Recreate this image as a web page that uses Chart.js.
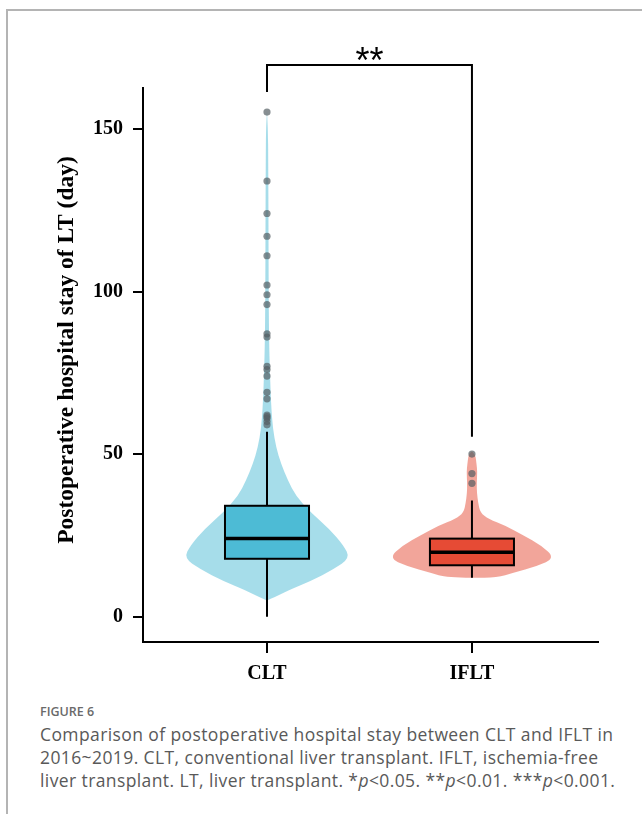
<!DOCTYPE html>
<html>
<head>
<meta charset="utf-8">
<script src="https://cdn.jsdelivr.net/npm/chart.js@4/dist/chart.umd.min.js"></script>
<style>
  html, body { margin: 0; padding: 0; background: #fff; }
  body { width: 642px; height: 814px; position: relative; overflow: hidden; }
  #frame { position: absolute; left: 6px; top: 9px; right: -5px; bottom: -5px;
           border-left: 2px solid #b4b4b4; border-top: 2px solid #b4b4b4; }
  #wrap { position: absolute; left: 0; top: 0; width: 642px; height: 700px; }
  #cap-head { position: absolute; left: 40px; top: 703px; font-family: "Open Sans", sans-serif;
              font-size: 12.5px; font-weight: 600; color: #6a6a6a; }
  #cap { position: absolute; left: 40px; top: 723px; width: 610px; font-family: "Open Sans", sans-serif;
         font-size: 17.5px; line-height: 23px; color: #595959; font-weight: 400; letter-spacing: 0.4px; white-space: nowrap; }
</style>
</head>
<body>
<div id="frame"></div>
<div id="wrap"><canvas id="c" width="642" height="700"></canvas></div>
<div id="cap-head">FIGURE 6</div>
<div id="cap">Comparison of postoperative hospital stay between CLT and IFLT in<br>2016~2019. CLT, conventional liver transplant. IFLT, ischemia-free<br>liver transplant. LT, liver transplant. *<i>p</i>&lt;0.05. **<i>p</i>&lt;0.01. ***<i>p</i>&lt;0.001.</div>
<script>
// ---------------- data ----------------
const categories = ['CLT', 'IFLT'];
const positions = [1, 2];
const yTicks = [0, 50, 100, 150];
const yTitle = 'Postoperative hospital stay of LT (day)';

// box statistics [whiskerLow, q1, median, q3, whiskerHigh]
const cltBox  = [0, 17.8, 24, 34.1, 56.9];
const ifltBox = [12, 15.8, 19.8, 24, 35.7];

// outliers
const cltOutliers  = [155.2, 134, 124, 117, 111, 102, 99, 96, 87, 86, 77, 76, 74, 69, 67, 62, 61.5, 61, 60, 59];
const ifltOutliers = [50, 44, 41];

// violin density profiles (value, relative half-width)
const cltViolinY = [155.5, 150, 140, 120, 100, 85, 75, 65, 58, 52, 47, 42, 37, 32, 27, 22, 18, 14.5, 11, 8, 6, 5];
const cltViolinW = [0.0, 0.012, 0.015, 0.018, 0.02, 0.025, 0.035, 0.05, 0.07, 0.11, 0.17, 0.25, 0.35, 0.53, 0.75, 0.92, 1.0, 0.8, 0.53, 0.25, 0.09, 0.0];
const ifltViolinY = [50.8, 50, 47, 44.5, 41, 38, 35, 32, 30, 28, 25, 22, 18, 15.5, 13.5, 12, 12];
const ifltViolinW = [0.0, 0.04, 0.055, 0.065, 0.057, 0.06, 0.075, 0.1, 0.2, 0.4, 0.62, 0.83, 1.0, 0.78, 0.5, 0.3, 0.0];

// significance bracket [top, leftEnd, rightEnd]
const bracket = [169.7, 161.4, 55.3];
const bracketLabel = '**';

// ---------------- styles ----------------
const boxColors = ['#4DBBD5', '#E64B35'];
const violinColors = ['rgba(77,187,213,0.5)', 'rgba(230,75,53,0.5)'];
const violinHalf = 0.405;   // x-data units for max density
const boxHalf = 0.205;
const serif = "'Liberation Serif', 'Times New Roman', serif";

const groups = [
  { pos: positions[0], box: cltBox, vy: cltViolinY, vw: cltViolinW },
  { pos: positions[1], box: ifltBox, vy: ifltViolinY, vw: ifltViolinW }
];

function smoothPath(ctx, pts, moveFirst) {
  if (moveFirst) ctx.moveTo(pts[0][0], pts[0][1]); else ctx.lineTo(pts[0][0], pts[0][1]);
  for (let i = 1; i < pts.length - 1; i++) {
    const mx = (pts[i][0] + pts[i + 1][0]) / 2, my = (pts[i][1] + pts[i + 1][1]) / 2;
    ctx.quadraticCurveTo(pts[i][0], pts[i][1], mx, my);
  }
  const l = pts[pts.length - 1];
  ctx.lineTo(l[0], l[1]);
}

const violinPlugin = {
  id: 'violin',
  beforeDatasetsDraw(chart) {
    const ctx = chart.ctx, xs = chart.scales.x, ys = chart.scales.y;
    const unit = xs.getPixelForValue(1) - xs.getPixelForValue(0);
    groups.forEach((g, gi) => {
      const cx = xs.getPixelForValue(g.pos);
      const right = g.vy.map((v, i) => [cx + g.vw[i] * violinHalf * unit, ys.getPixelForValue(v)]);
      const left = g.vy.map((v, i) => [cx - g.vw[i] * violinHalf * unit, ys.getPixelForValue(v)]).reverse();
      ctx.save();
      ctx.beginPath();
      smoothPath(ctx, right, true);
      smoothPath(ctx, left, false);
      ctx.closePath();
      ctx.fillStyle = violinColors[gi];
      ctx.fill();
      ctx.restore();
    });
  },
  afterDatasetsDraw(chart) {
    const ctx = chart.ctx, xs = chart.scales.x, ys = chart.scales.y;
    const unit = xs.getPixelForValue(1) - xs.getPixelForValue(0);
    groups.forEach((g, gi) => {
      const cx = xs.getPixelForValue(g.pos);
      const [wl, q1, med, q3, wh] = g.box.map(v => ys.getPixelForValue(v));
      const hw = boxHalf * unit;
      ctx.save();
      ctx.strokeStyle = '#000';
      ctx.lineWidth = 2;
      ctx.beginPath();
      ctx.moveTo(cx, wh); ctx.lineTo(cx, q3);
      ctx.moveTo(cx, q1); ctx.lineTo(cx, wl);
      ctx.stroke();
      ctx.fillStyle = boxColors[gi];
      ctx.fillRect(cx - hw, q3, 2 * hw, q1 - q3);
      ctx.strokeRect(cx - hw, q3, 2 * hw, q1 - q3);
      ctx.lineWidth = 3.5;
      ctx.beginPath();
      ctx.moveTo(cx - hw, med); ctx.lineTo(cx + hw, med);
      ctx.stroke();
      ctx.restore();
    });
  },
  afterDraw(chart) {
    const ctx = chart.ctx, xs = chart.scales.x, ys = chart.scales.y;
    const x1 = xs.getPixelForValue(positions[0]), x2 = xs.getPixelForValue(positions[1]);
    const yt = ys.getPixelForValue(bracket[0]);
    ctx.save();
    ctx.strokeStyle = '#000';
    ctx.lineWidth = 2;
    ctx.beginPath();
    ctx.moveTo(x1, ys.getPixelForValue(bracket[1]));
    ctx.lineTo(x1, yt); ctx.lineTo(x2, yt);
    ctx.lineTo(x2, ys.getPixelForValue(bracket[2]));
    ctx.stroke();
    ctx.fillStyle = '#000';
    ctx.font = "36px 'Liberation Sans', Arial, sans-serif";
    ctx.textAlign = 'center';
    ctx.textBaseline = 'alphabetic';
    ctx.fillText(bracketLabel, (x1 + x2) / 2, yt + 8);
    // y-axis title
    ctx.translate(67, 350);
    ctx.rotate(-Math.PI / 2);
    ctx.font = "bold 23.5px " + serif;
    ctx.textBaseline = 'middle';
    ctx.fillText(yTitle, 0, 0);
    ctx.restore();
  }
};

new Chart(document.getElementById('c'), {
  type: 'scatter',
  data: {
    datasets: [
      { data: cltOutliers.map(v => ({ x: positions[0], y: v })) },
      { data: ifltOutliers.map(v => ({ x: positions[1], y: v })) }
    ]
  },
  options: {
    responsive: false,
    animation: false,
    events: [],
    layout: { padding: { top: 88, right: 44, left: 0, bottom: 0 } },
    elements: { point: { radius: 3.6, backgroundColor: 'rgba(85,95,100,0.7)', borderWidth: 0 } },
    plugins: { legend: { display: false }, tooltip: { enabled: false } },
    scales: {
      x: {
        type: 'linear', min: 0.395, max: 2.615,
        afterBuildTicks: s => { s.ticks = positions.map(v => ({ value: v })); },
        afterFit: s => { s.height = 58; },
        ticks: { callback: v => categories[positions.indexOf(v)], color: '#000',
                 font: { family: serif, size: 20, weight: 'bold' }, padding: 9, maxRotation: 0 },
        grid: { display: true, drawOnChartArea: false, drawTicks: true, tickLength: 11, color: '#000', lineWidth: 2 },
        border: { display: true, color: '#000', width: 2 }
      },
      y: {
        type: 'linear', min: -7.8, max: 162.6,
        afterBuildTicks: s => { s.ticks = yTicks.map(v => ({ value: v })); },
        afterFit: s => { s.width = 143; },
        ticks: { color: '#000', font: { family: serif, size: 20, weight: 'bold' }, padding: 10 },
        grid: { display: true, drawOnChartArea: false, drawTicks: true, tickLength: 10, color: '#000', lineWidth: 2 },
        border: { display: true, color: '#000', width: 2 },
        title: { display: false }
      }
    }
  },
  plugins: [violinPlugin]
});
</script>
</body>
</html>
